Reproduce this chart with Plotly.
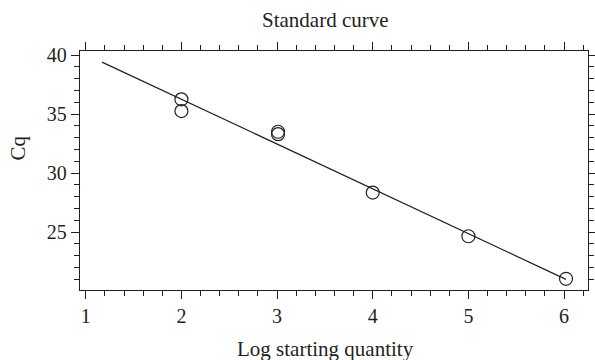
import plotly.graph_objects as go

# Data
log_qty = [2.0, 2.0, 3.01, 3.01, 4.0, 5.0, 6.02]
cq = [36.25, 35.25, 33.5, 33.3, 28.35, 24.65, 21.05]

fit_x = [1.17, 6.02]
fit_y = [39.4, 21.0]

x_ticks = [1, 2, 3, 4, 5, 6]
y_ticks = [25, 30, 35, 40]

title_text = "Standard curve"
x_title = "Log starting quantity"
y_title = "Cq"

ink = "#231f20"
font_family = "Liberation Serif, Times New Roman, serif"

fig = go.Figure()
fig.add_trace(go.Scatter(x=fit_x, y=fit_y, mode="lines",
                         line=dict(color=ink, width=1.2), showlegend=False,
                         hoverinfo="skip"))
fig.add_trace(go.Scatter(x=log_qty, y=cq, mode="markers",
                         marker=dict(symbol="circle-open", size=13,
                                     color=ink, line=dict(width=1.2, color=ink)),
                         showlegend=False))

axis_common = dict(showgrid=False, zeroline=False, showline=True,
                   linecolor=ink, linewidth=1.3, mirror="ticks",
                   ticks="outside", ticklen=8, tickwidth=1.3, tickcolor=ink,
                   automargin=False,
                   tickfont=dict(family=font_family, size=20, color=ink))

fig.update_xaxes(range=[0.94, 6.25], tickvals=x_ticks,
                 minor=dict(dtick=0.2, ticks="outside", ticklen=5,
                            tickwidth=1.2, tickcolor=ink, showgrid=False),
                 **axis_common)
fig.update_yaxes(range=[20.1, 40.34], tickvals=y_ticks,
                 minor=dict(dtick=1, ticks="outside", ticklen=5,
                            tickwidth=1.2, tickcolor=ink, showgrid=False),
                 **axis_common)

fig.add_annotation(text=title_text, xref="paper", yref="paper",
                   x=0.484, y=1.13, xanchor="center", yanchor="middle",
                   showarrow=False,
                   font=dict(family=font_family, size=21, color=ink))
fig.add_annotation(text=x_title, xref="paper", yref="paper",
                   x=0.484, y=-0.247, xanchor="center", yanchor="middle",
                   showarrow=False,
                   font=dict(family=font_family, size=21, color=ink))
fig.add_annotation(text=y_title, xref="paper", yref="paper",
                   x=-0.121, y=0.594, xanchor="center", yanchor="middle",
                   textangle=-90, showarrow=False,
                   font=dict(family=font_family, size=21, color=ink))

fig.update_layout(width=595, height=360,
                  margin=dict(l=80, r=7, t=51, b=70, autoexpand=False),
                  paper_bgcolor="white", plot_bgcolor="white")

fig.write_html("out.html", config={"displayModeBar": False},
               post_script="document.body.style.margin='0';document.body.style.overflow='hidden';")
